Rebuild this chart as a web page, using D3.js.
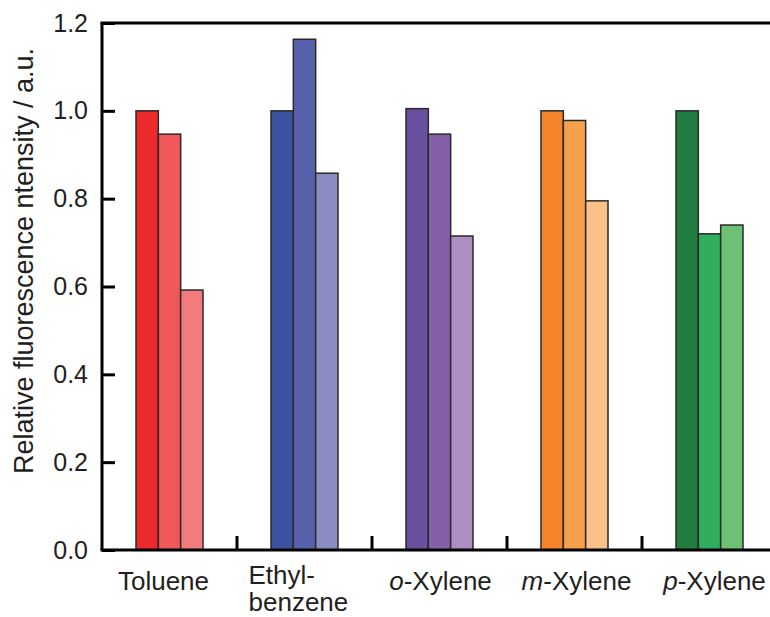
<!DOCTYPE html>
<html>
<head>
<meta charset="utf-8">
<script src="https://cdn.jsdelivr.net/npm/d3@7"></script>
<style>
  body { margin: 0; background: #fff; }
  text { font-family: "Liberation Sans", Arial, sans-serif; fill: #231f20; }
</style>
</head>
<body>
<div id="chart"></div>
<script>
var width = 770;
var height = 617;

// data
var categories = ["Toluene", "Ethylbenzene", "o-Xylene", "m-Xylene", "p-Xylene"];
var seriesA = [1.0, 1.0, 1.005, 1.0, 1.0];
var seriesB = [0.947, 1.163, 0.947, 0.978, 0.72];
var seriesC = [0.592, 0.858, 0.715, 0.795, 0.74];
var yTicks = [0, 0.2, 0.4, 0.6, 0.8, 1.0, 1.2];

var barColors = [
  ["#ec2a2b", "#f05758", "#f27b7b"],
  ["#3a52a0", "#5761ab", "#8a8cc2"],
  ["#6a51a0", "#8560a8", "#ac8ec3"],
  ["#f5842b", "#f6a04c", "#f9c087"],
  ["#217c3f", "#2fae5e", "#6cc174"]
];

var margin = {left: 102, top: 23, bottom: 67};
var plotBottom = height - margin.bottom;

var svg = d3.select("#chart")
  .append("svg")
  .attr("width", width)
  .attr("height", height);

var x = d3.scaleBand()
  .domain(categories)
  .range([margin.left, margin.left + 135 * categories.length])
  .padding(0);

var y = d3.scaleLinear()
  .domain([0, 1.2])
  .range([plotBottom, margin.top]);

var inner = d3.scaleBand()
  .domain([0, 1, 2])
  .range([x.bandwidth() / 2 - 33.5, x.bandwidth() / 2 + 33.5]);

var series = [seriesA, seriesB, seriesC];

// bars
categories.forEach(function(cat, ci) {
  var g = svg.append("g").attr("transform", "translate(" + x(cat) + ",0)");
  series.forEach(function(s, si) {
    g.append("rect")
      .attr("x", inner(si))
      .attr("width", inner.bandwidth())
      .attr("y", y(s[ci]))
      .attr("height", y(0) - y(s[ci]))
      .attr("fill", barColors[ci][si])
      .attr("stroke", "#2a2a2a")
      .attr("stroke-width", 1.5);
  });
});

// frame: left spine and top line
svg.append("line")
  .attr("x1", margin.left).attr("x2", margin.left)
  .attr("y1", margin.top).attr("y2", plotBottom)
  .attr("stroke", "#000").attr("stroke-width", 3);
svg.append("line")
  .attr("x1", margin.left - 1.5).attr("x2", width)
  .attr("y1", margin.top).attr("y2", margin.top)
  .attr("stroke", "#000").attr("stroke-width", 3);

// y axis (ticks inward)
var yAxis = d3.axisRight(y)
  .tickValues(yTicks)
  .tickSize(13)
  .tickFormat(d3.format(".1f"));

var yg = svg.append("g")
  .attr("transform", "translate(" + margin.left + ",0)")
  .call(yAxis);
yg.select(".domain").remove();
yg.selectAll(".tick line").attr("stroke", "#000").attr("stroke-width", 3);
yg.selectAll(".tick text")
  .attr("x", -14)
  .attr("text-anchor", "end")
  .style("font-size", "25px")
  .style("font-family", "Liberation Sans, Arial, sans-serif")
  .attr("fill", "#231f20");

// x axis line with upward ticks at the category boundaries
svg.append("line")
  .attr("x1", margin.left - 1.5).attr("x2", width)
  .attr("y1", plotBottom).attr("y2", plotBottom)
  .attr("stroke", "#000").attr("stroke-width", 3);

svg.selectAll(".xtick")
  .data(categories.slice(1))
  .enter().append("line")
  .attr("class", "xtick")
  .attr("x1", function(d) { return x(d); })
  .attr("x2", function(d) { return x(d); })
  .attr("y1", plotBottom)
  .attr("y2", plotBottom - 14)
  .attr("stroke", "#000").attr("stroke-width", 3);

// category labels, with italic prefixes and a wrapped Ethylbenzene
var labelY = plotBottom + 40;
var labelShift = [-6, 0, 1, 2, 5];
categories.forEach(function(cat, i) {
  var cx = x(cat) + x.bandwidth() / 2 + labelShift[i];
  if (cat === "Ethylbenzene") {
    var t = svg.append("text")
      .attr("y", plotBottom + 34)
      .style("font-size", "26px");
    t.append("tspan").attr("x", cx - 56).text("Ethyl-");
    t.append("tspan").attr("x", cx - 56).attr("dy", 27).text("benzene");
    return;
  }
  var t = svg.append("text")
    .attr("x", cx)
    .attr("y", labelY)
    .attr("text-anchor", "middle")
    .style("font-size", "26px");
  var parts = cat.split("-");
  if (parts.length === 2) {
    t.append("tspan").style("font-style", "italic").text(parts[0]);
    t.append("tspan").text("-" + parts[1]);
  } else {
    t.text(cat);
  }
});

// y axis title
svg.append("text")
  .attr("transform", "translate(33,261) rotate(-90)")
  .attr("text-anchor", "middle")
  .style("font-size", "27px")
  .text("Relative fluorescence ntensity / a.u.");
</script>
</body>
</html>
